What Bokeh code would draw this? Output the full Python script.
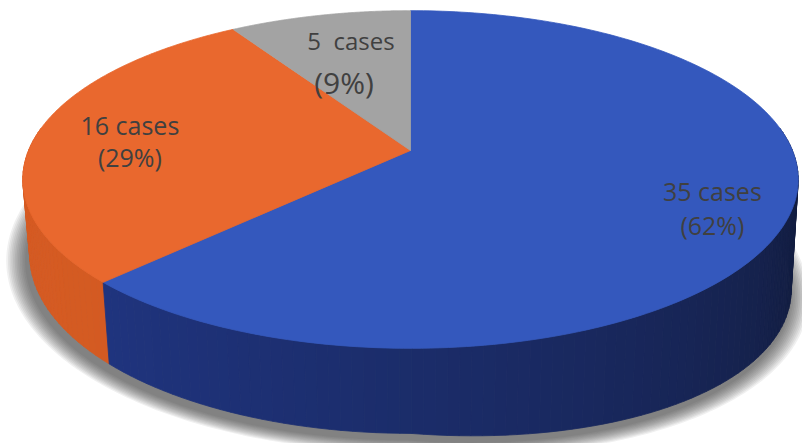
import numpy as np
from bokeh.plotting import figure
from bokeh.models import Range1d
from bokeh.embed import file_html
from bokeh.resources import INLINE
from bokeh.core.properties import value

# ---------------- data ----------------
categories = ["Group A", "Group B", "Group C"]
counts = [35, 16, 5]
count_labels = ["35 cases", "16 cases", "5\u00a0 cases"]
pct_labels = ["(62%)", "(29%)", "(9%)"]

# ---------------- styles ----------------
top_colors = ["#3458BD", "#E9682E", "#A3A3A3"]
side_left_colors = ["#22398C", "#D65C23", "#8A8A8A"]
side_right_colors = ["#111A38", "#C9521E", "#707070"]
label_radius = [0.81, 0.75, 0.62]
label_dx = [[0, 0], [0, 0], [0, -7]]
label_dy = [[-13, 21], [-12, 20], [-21, 21]]
count_font = ["25px", "25px", "24px"]
pct_font = ["25px", "25px", "30px"]

W, H = 802, 443
CX, CY = 410.0, 150.0
FOC = 2009.0
DIST = 5.26
SIN_A, COS_A = 0.429, 0.903
THICK = 0.219


def project(theta_deg, r=1.0, bottom=False):
    t = np.radians(np.asarray(theta_deg, dtype=float))
    X = r * np.cos(t)
    Y = r * np.sin(t)
    Z = -THICK if bottom else 0.0
    depth = DIST - Y * COS_A - Z * SIN_A
    x = CX + FOC * X / depth
    y = CY + FOC * (Y * SIN_A - Z * COS_A) / depth
    if bottom:
        y = y + 35.0 * np.clip(X, 0, None)
    return x, y


def mix(c1, c2, f):
    a = [int(c1[i:i + 2], 16) for i in (1, 3, 5)]
    b = [int(c2[i:i + 2], 16) for i in (1, 3, 5)]
    return "#%02x%02x%02x" % tuple(int(round(a[k] + (b[k] - a[k]) * f)) for k in range(3))


total = float(sum(counts))
starts, ends = [], []
acc = 0.0
for c in counts:
    starts.append(-90.0 + 360.0 * acc / total)
    acc += c
    ends.append(-90.0 + 360.0 * acc / total)

p = figure(width=W, height=H, x_range=Range1d(0, W), y_range=Range1d(H, 0),
           output_backend="svg", toolbar_location=None, min_border=0)
p.axis.visible = False
p.grid.visible = False
p.outline_line_color = None
p.background_fill_color = "white"
p.border_fill_color = "white"

# ---------------- soft shadow (blurred copy of the base) ----------------
th = np.linspace(-180, 180, 361)
bx, by = project(th, bottom=True)
bcy = 0.5 * (by.min() + by.max())
for k in range(12, 0, -1):
    xs_ = CX + (bx - CX) * (1.0 + 0.0045 * k) - 3
    ys_ = bcy + (by - bcy) * (1.0 + 0.006 * k) + 6
    p.patch(xs_, ys_, fill_color="#3a3a3a", fill_alpha=0.075, line_color=None)

# ---------------- sides ----------------
strips = []
for i in range(len(counts)):
    a0, a1 = max(starts[i], -8.0), min(ends[i], 188.0)
    if a1 <= a0:
        continue
    n = max(2, int((a1 - a0) / 1.5))
    edges = np.linspace(a0, a1, n + 1)
    for j in range(n):
        e0, e1 = edges[j], edges[j + 1]
        mid = 0.5 * (e0 + e1)
        f = np.clip((180.0 - mid) / 180.0, 0, 1)
        col = mix(side_left_colors[i], side_right_colors[i], f ** 1.3)
        strips.append((np.sin(np.radians(mid)), e0, e1, col))
strips.sort(key=lambda s: s[0])
for _, e0, e1, col in strips:
    x0t, y0t = project(e0)
    x1t, y1t = project(e1)
    x0b, y0b = project(e0, bottom=True)
    x1b, y1b = project(e1, bottom=True)
    p.patch([x0t, x1t, x1b, x0b], [y0t, y1t, y1b, y0b], fill_color=col,
            line_color=col, line_width=0.8)

# ---------------- top faces ----------------
for i in range(len(counts)):
    arc = np.linspace(starts[i], ends[i], 200)
    ax, ay = project(arc)
    xs_ = np.concatenate([[CX], ax])
    ys_ = np.concatenate([[CY], ay])
    p.patch(xs_, ys_, fill_color=top_colors[i], line_color=top_colors[i], line_width=0.8)

# ---------------- labels ----------------
for i in range(len(counts)):
    mid = 0.5 * (starts[i] + ends[i])
    lx, ly = project(mid, r=label_radius[i])
    p.text(x=[float(lx) + label_dx[i][0]], y=[float(ly) + label_dy[i][0]], text=[count_labels[i]],
           text_font=value("Open Sans"), text_font_size=count_font[i],
           text_color="#404040", text_align="center", text_baseline="middle")
    p.text(x=[float(lx) + label_dx[i][1]], y=[float(ly) + label_dy[i][1]], text=[pct_labels[i]],
           text_font=value("Open Sans"), text_font_size=pct_font[i],
           text_color="#404040", text_align="center", text_baseline="middle")

open("out.html", "w").write(file_html(p, INLINE))
